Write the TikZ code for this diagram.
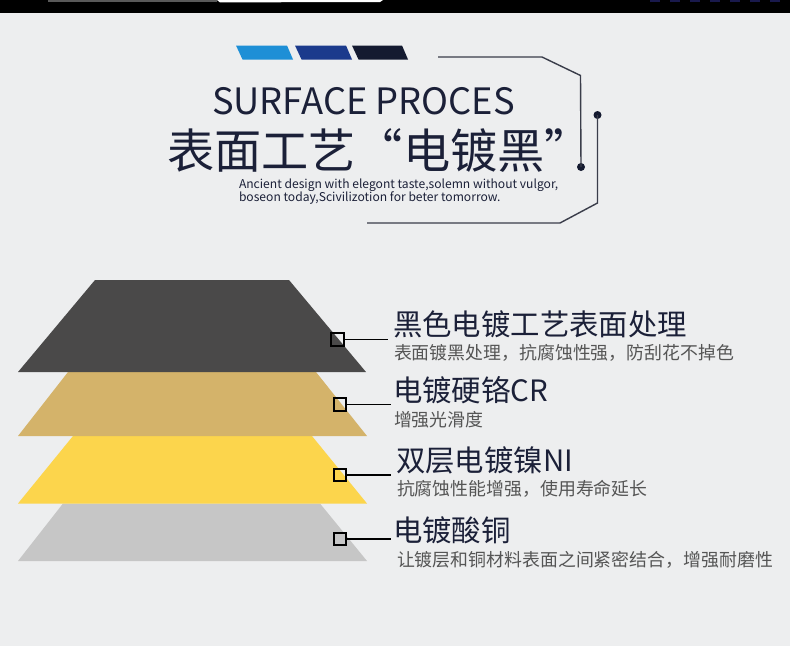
\documentclass[tikz,border=0pt]{standalone}
\usepackage{fontspec}
\setmainfont{Noto Sans CJK SC}
\definecolor{bgc}{HTML}{EDEEEF}
\definecolor{navy}{HTML}{1B2038}
\definecolor{lblue}{HTML}{1E8FD6}
\definecolor{mblue}{HTML}{1B3A8C}
\definecolor{dblue}{HTML}{141A30}
\definecolor{framec}{HTML}{3A3D4A}
\definecolor{layerA}{HTML}{4A4949}
\definecolor{layerB}{HTML}{D4B36A}
\definecolor{layerC}{HTML}{FCD54C}
\definecolor{layerD}{HTML}{C6C6C6}
\definecolor{subc}{HTML}{555555}
\tikzset{
  px/.style={x=1pt,y=-1pt},
  txt/.style={anchor=base west,inner sep=0pt,outer sep=0pt},
  headtxt/.style={txt,text=navy,font=\fontsize{29.4}{30}\selectfont},
  subtxt/.style={txt,text=subc,font=\fontsize{17.9}{18}\selectfont},
  engtxt/.style={txt,text=navy,font=\fontsize{12.1}{13.4}\selectfont},
  marker/.style={draw=black,line width=1.8pt,minimum size=12.5pt,inner sep=0pt,fill=none},
  leader/.style={draw=black,line width=1.3pt},
  frameline/.style={draw=framec,line width=1.4pt},
  dotc/.style={circle,fill=dblue,inner sep=0pt,minimum size=8pt},
}
\begin{document}
\begin{tikzpicture}[px]
\useasboundingbox (0,0) rectangle (790,646);
\fill[bgc] (0,0) rectangle (790,646);
% top bar
\fill[black] (0,0) rectangle (790,12.7);
\fill[gray!70!black] (48,0) rectangle (217,2);
\fill[white] (217,0) -- (383,0) -- (380,2) -- (220,2.4) -- cycle;
\foreach \i in {0,...,6} {\fill[gray!50!blue!40!black] (650+20*\i,0) rectangle (660+20*\i,2);}
% blue bars
\fill[lblue] (236,45.5) -- (287,45.5) -- (293,59.5) -- (242.5,59.5) -- cycle;
\fill[mblue] (295,45.5) -- (346,45.5) -- (352,59.5) -- (301.5,59.5) -- cycle;
\fill[dblue] (352,45.5) -- (402,45.5) -- (408,59.5) -- (358.5,59.5) -- cycle;
% titles
\node[txt,text=navy,font=\fontsize{36.3}{38}\selectfont] (ttl) at (212,114) {SURFACE PROCES};
\node[txt,text=navy,font=\fontsize{47.2}{50}\selectfont] (cttl) at (167,168.5) {表面工艺“电镀黑”};
\node[engtxt] (eng1) at (239,188.3) {Ancient design with elegont taste,solemn without vulgor,};
\node[engtxt] (eng2) at (239,201.7) {boseon today,Scivilizotion for beter tomorrow.};
% frame lines
\coordinate (f1) at (438,57);
\coordinate (f2) at (542,57);
\coordinate (f3) at (580.5,75.5);
\node[dotc] (d1) at (581,167) {};
\draw[frameline] (f1) -- (f2) -- (f3) -- (d1.center);
\node[dotc] (d2) at (597.5,115) {};
\coordinate (g1) at (597.5,203);
\coordinate (g2) at (560,223);
\coordinate (g3) at (367,223);
\draw[frameline] (d2.center) -- (g1) -- (g2) -- (g3);
% layers
\fill[layerD] (63,503.5) -- (320,503.5) -- (367,561) -- (18,561) -- cycle;
\fill[layerC] (73,436) -- (312,436) -- (367,503.5) -- (18,503.5) -- cycle;
\fill[layerB] (68,372) -- (316,372) -- (367,436) -- (18,436) -- cycle;
\fill[layerA] (95,280) -- (289,280) -- (366,372) -- (18,372) -- cycle;
% markers and leaders
\node[marker] (m1) at (337.5,339.5) {};
\node[marker] (m2) at (340,404.5) {};
\node[marker] (m3) at (340,475) {};
\node[marker] (m4) at (340,539) {};
\coordinate (e1) at (388,339.5);
\coordinate (e2) at (391,404.5);
\coordinate (e3) at (391,475);
\coordinate (e4) at (391,539);
\draw[leader] (m1.east) -- (e1);
\draw[leader] (m2.east) -- (e2);
\draw[leader] (m3.east) -- (e3);
\draw[leader] (m4.east) -- (e4);
% labels
\node[headtxt] (h1) at (393,335) {黑色电镀工艺表面处理};
\node[subtxt] (s1) at (394,359) {表面镀黑处理，抗腐蚀性强，防刮花不掉色};
\node[headtxt] (h2) at (393,401) {电镀硬铬CR};
\node[subtxt] (s2) at (394,426) {增强光滑度};
\node[headtxt] (h3) at (396,471) {双层电镀镍NI};
\node[subtxt] (s3) at (397,495) {抗腐蚀性能增强，使用寿命延长};
\node[headtxt] (h4) at (393,541) {电镀酸铜};
\node[subtxt] (s4) at (397,566) {让镀层和铜材料表面之间紧密结合，增强耐磨性};
\end{tikzpicture}
\end{document}
